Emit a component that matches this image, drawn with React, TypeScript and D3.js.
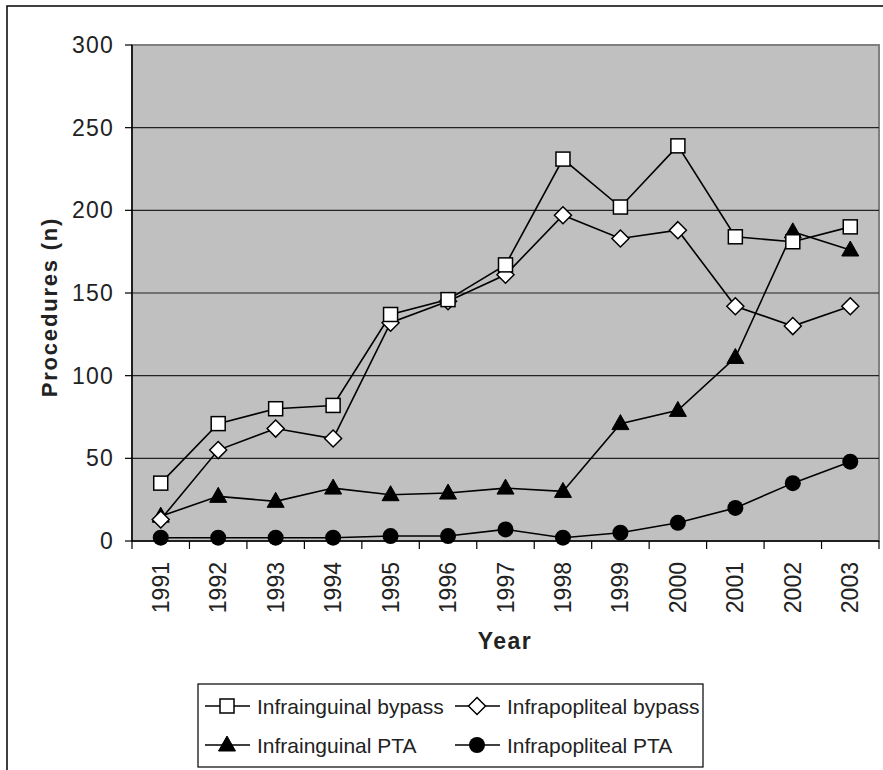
import React from 'react';
import * as d3 from 'd3';

const years = ['1991','1992','1993','1994','1995','1996','1997','1998','1999','2000','2001','2002','2003'];
const infrainguinalBypass = [35,71,80,82,137,146,167,231,202,239,184,181,190];
const infrapoplitealBypass = [13,55,68,62,132,145,161,197,183,188,142,130,142];
const infrainguinalPTA = [15,27,24,32,28,29,32,30,71,79,111,187,176];
const infrapoplitealPTA = [2,2,2,2,3,3,7,2,5,11,20,35,48];
const yTicks = [0,50,100,150,200,250,300];

const seriesNames = ['Infrainguinal bypass','Infrapopliteal bypass','Infrainguinal PTA','Infrapopliteal PTA'];
const seriesValues = [infrainguinalBypass, infrapoplitealBypass, infrainguinalPTA, infrapoplitealPTA];
const seriesMarkers = ['square','diamond','triangle','circle'];

const W = 883, H = 770;
const L = 132, R = 879, T = 45, B = 541;
const FONT = 'Liberation Sans, Arial, sans-serif';

function Marker({ kind, x, y }: { kind: string; x: number; y: number }) {
  if (kind === 'square') return <rect x={x-7} y={y-7} width={14} height={14} fill="#fff" stroke="#000" strokeWidth={1.5} />;
  if (kind === 'diamond') return <path d={`M${x},${y-8.5}L${x+8.5},${y}L${x},${y+8.5}L${x-8.5},${y}Z`} fill="#fff" stroke="#000" strokeWidth={1.5} />;
  if (kind === 'triangle') return <path d={`M${x},${y-9}L${x+8.5},${y+6}L${x-8.5},${y+6}Z`} fill="#000" stroke="#000" strokeWidth={1} />;
  return <circle cx={x} cy={y} r={8} fill="#000" />;
}

export default function App() {
  const x = d3.scaleBand<string>().domain(years).range([L, R]);
  const y = d3.scaleLinear().domain([0, 300]).range([B, T]);
  const cx = (yr: string) => (x(yr) as number) + x.bandwidth() / 2;
  const line = d3.line<number>().x((_, i) => cx(years[i])).y(v => y(v));
  const bounds = [...years.map(yr => x(yr) as number), R];

  const legendItems = [
    { i: 0, lx: 205, ty: 714 },
    { i: 1, lx: 455, ty: 714 },
    { i: 2, lx: 205, ty: 753 },
    { i: 3, lx: 455, ty: 753 },
  ];

  return (
    <svg width={W} height={H} style={{ position: 'absolute', left: 0, top: 0, background: '#fff' }} fontFamily={FONT}>
      <rect x={7} y={6} width={W + 20} height={H + 20} fill="#fff" stroke="#000" strokeWidth={1.5} />
      <rect x={L} y={T} width={R - L} height={B - T} fill="#c0c0c0" stroke="#808080" strokeWidth={2} />
      {yTicks.filter(t => t > 0 && t < 300).map(t => (
        <line key={t} x1={L} x2={R} y1={y(t)} y2={y(t)} stroke="#222" strokeWidth={1.2} />
      ))}
      <line x1={L} x2={L} y1={T} y2={B} stroke="#000" strokeWidth={1.5} />
      <line x1={L} x2={R} y1={B} y2={B} stroke="#000" strokeWidth={1.5} />
      {yTicks.map(t => (
        <g key={t}>
          <line x1={L - 7} x2={L} y1={y(t)} y2={y(t)} stroke="#000" strokeWidth={1.2} />
          <text x={114} y={y(t)} dy="0.35em" textAnchor="end" fontSize={23} letterSpacing={1.2} fill="#222">{t}</text>
        </g>
      ))}
      {bounds.map((bx, i) => (
        <line key={i} x1={bx} x2={bx} y1={B} y2={B + 8} stroke="#000" strokeWidth={1.2} />
      ))}
      {years.map(yr => (
        <text key={yr} transform={`translate(${cx(yr)},${562}) rotate(-90)`} dy="0.35em" textAnchor="end" fontSize={23} fill="#222">{yr}</text>
      ))}
      <text transform={`translate(49,${(T + B) / 2 + 14}) rotate(-90)`} dy="0.35em" textAnchor="middle" fontSize={22} fontWeight="bold" letterSpacing={1.8} fill="#222">Procedures (n)</text>
      <text x={505} y={649} textAnchor="middle" fontSize={23} fontWeight="bold" letterSpacing={1.5} fill="#222">Year</text>

      {seriesValues.map((vals, i) => (
        <path key={i} d={line(vals) as string} fill="none" stroke="#000" strokeWidth={1.6} />
      ))}
      {[3, 2, 1, 0].map(si => (
        <g key={si}>
          {seriesValues[si].map((v, j) => (
            <Marker key={j} kind={seriesMarkers[si]} x={cx(years[j])} y={y(v)} />
          ))}
        </g>
      ))}

      <rect x={198} y={684} width={505} height={83} fill="#fff" stroke="#000" strokeWidth={1.2} />
      {legendItems.map(it => (
        <g key={it.i}>
          <line x1={it.lx} x2={it.lx + 45} y1={it.ty - 8} y2={it.ty - 8} stroke="#000" strokeWidth={1.6} />
          <Marker kind={seriesMarkers[it.i]} x={it.lx + 22} y={it.ty - 8} />
          <text x={it.lx + 52} y={it.ty} fontSize={21} fill="#222">{seriesNames[it.i]}</text>
        </g>
      ))}
    </svg>
  );
}
